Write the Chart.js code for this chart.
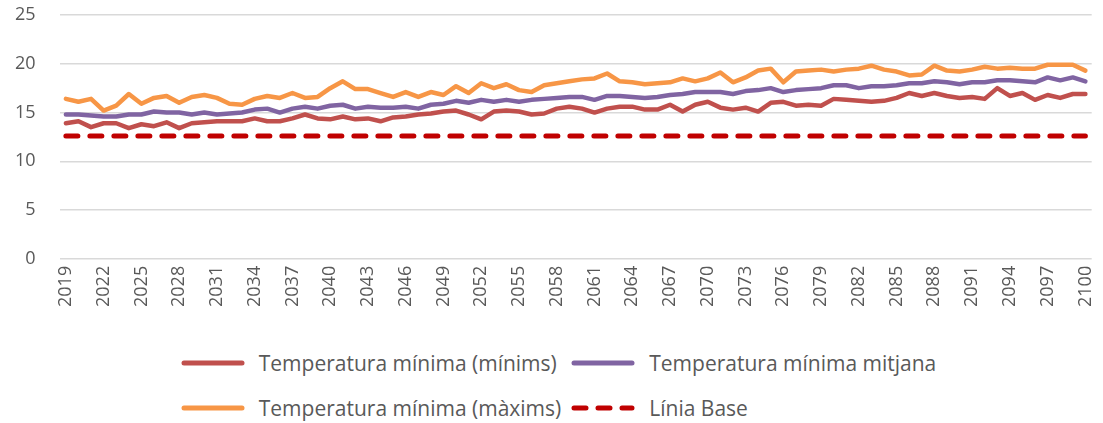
<!DOCTYPE html>
<html>
<head>
<meta charset="utf-8">
<script src="https://cdn.jsdelivr.net/npm/chart.js@4"></script>
<style>
  body { margin: 0; background: #fff; }
  #wrap { position: relative; width: 1103px; height: 423px; overflow: hidden; }
  #box { position: absolute; left: 0; top: 0; width: 1107px; height: 307px; }
  #legend {
    position: absolute; left: 7px; top: 340px; width: 1103px;
    display: grid; grid-template-columns: auto auto; justify-content: center;
    row-gap: 0; column-gap: 10px;
    font-family: "Open Sans", sans-serif; font-size: 21px; color: #595959;
  }
  .item { display: flex; align-items: center; height: 45px; white-space: nowrap; }
  .item svg { margin-right: 14px; }
</style>
</head>
<body>
<div id="wrap">
  <div id="box"><canvas id="temp_graph"></canvas></div>
  <div id="legend"></div>
</div>
<script>
var years = [2019, 2020, 2021, 2022, 2023, 2024, 2025, 2026, 2027, 2028,
  2029, 2030, 2031, 2032, 2033, 2034, 2035, 2036, 2037, 2038,
  2039, 2040, 2041, 2042, 2043, 2044, 2045, 2046, 2047, 2048,
  2049, 2050, 2051, 2052, 2053, 2054, 2055, 2056, 2057, 2058,
  2059, 2060, 2061, 2062, 2063, 2064, 2065, 2066, 2067, 2068,
  2069, 2070, 2071, 2072, 2073, 2074, 2075, 2076, 2077, 2078,
  2079, 2080, 2081, 2082, 2083, 2084, 2085, 2086, 2087, 2088,
  2089, 2090, 2091, 2092, 2093, 2094, 2095, 2096, 2097, 2098,
  2099, 2100];

// minimum of the minimum temperature
var temp_min = [13.9, 14.1, 13.5, 13.9, 13.9, 13.4, 13.8, 13.6, 14.0, 13.4,
  13.9, 14.0, 14.1, 14.1, 14.1, 14.4, 14.1, 14.1, 14.4, 14.8,
  14.4, 14.3, 14.6, 14.3, 14.4, 14.1, 14.5, 14.6, 14.8, 14.9,
  15.1, 15.2, 14.8, 14.3, 15.1, 15.2, 15.1, 14.8, 14.9, 15.4,
  15.6, 15.4, 15.0, 15.4, 15.6, 15.6, 15.3, 15.3, 15.8, 15.1,
  15.8, 16.1, 15.5, 15.3, 15.5, 15.1, 16.0, 16.1, 15.7, 15.8,
  15.7, 16.4, 16.3, 16.2, 16.1, 16.2, 16.5, 17.0, 16.7, 17.0,
  16.7, 16.5, 16.6, 16.4, 17.5, 16.7, 17.0, 16.3, 16.8, 16.5,
  16.9, 16.9];

// mean
var temp_mean = [14.8, 14.8, 14.7, 14.6, 14.6, 14.8, 14.8, 15.1, 15.0, 15.0,
  14.8, 15.0, 14.8, 14.9, 15.0, 15.3, 15.4, 15.0, 15.4, 15.6,
  15.4, 15.7, 15.8, 15.4, 15.6, 15.5, 15.5, 15.6, 15.4, 15.8,
  15.9, 16.2, 16.0, 16.3, 16.1, 16.3, 16.1, 16.3, 16.4, 16.5,
  16.6, 16.6, 16.3, 16.7, 16.7, 16.6, 16.5, 16.6, 16.8, 16.9,
  17.1, 17.1, 17.1, 16.9, 17.2, 17.3, 17.5, 17.1, 17.3, 17.4,
  17.5, 17.8, 17.8, 17.5, 17.7, 17.7, 17.8, 18.0, 18.0, 18.2,
  18.1, 17.9, 18.1, 18.1, 18.3, 18.3, 18.2, 18.1, 18.6, 18.3,
  18.6, 18.2];

// maximum
var temp_max = [16.4, 16.1, 16.4, 15.2, 15.7, 16.9, 15.9, 16.5, 16.7, 16.0,
  16.6, 16.8, 16.5, 15.9, 15.8, 16.4, 16.7, 16.5, 17.0, 16.5,
  16.6, 17.5, 18.2, 17.4, 17.4, 17.0, 16.6, 17.1, 16.6, 17.1,
  16.8, 17.7, 17.0, 18.0, 17.5, 17.9, 17.3, 17.1, 17.8, 18.0,
  18.2, 18.4, 18.5, 19.0, 18.2, 18.1, 17.9, 18.0, 18.1, 18.5,
  18.2, 18.5, 19.1, 18.1, 18.6, 19.3, 19.5, 18.1, 19.2, 19.3,
  19.4, 19.2, 19.4, 19.5, 19.8, 19.4, 19.2, 18.8, 18.9, 19.8,
  19.3, 19.2, 19.4, 19.7, 19.5, 19.6, 19.5, 19.5, 19.9, 19.9,
  19.9, 19.3];

var base_line = [12.6, 12.6, 12.6, 12.6, 12.6, 12.6, 12.6, 12.6, 12.6, 12.6,
  12.6, 12.6, 12.6, 12.6, 12.6, 12.6, 12.6, 12.6, 12.6, 12.6,
  12.6, 12.6, 12.6, 12.6, 12.6, 12.6, 12.6, 12.6, 12.6, 12.6,
  12.6, 12.6, 12.6, 12.6, 12.6, 12.6, 12.6, 12.6, 12.6, 12.6,
  12.6, 12.6, 12.6, 12.6, 12.6, 12.6, 12.6, 12.6, 12.6, 12.6,
  12.6, 12.6, 12.6, 12.6, 12.6, 12.6, 12.6, 12.6, 12.6, 12.6,
  12.6, 12.6, 12.6, 12.6, 12.6, 12.6, 12.6, 12.6, 12.6, 12.6,
  12.6, 12.6, 12.6, 12.6, 12.6, 12.6, 12.6, 12.6, 12.6, 12.6,
  12.6, 12.6];

var series_names = ["Temperatura mínima (mínims)", "Temperatura mínima mitjana",
  "Temperatura mínima (màxims)", "Línia Base"];

var y_ticks = [0, 5, 10, 15, 20, 25];

function lineSet(label, data, color) {
  return {
    label: label,
    data: data,
    fill: false,
    borderColor: color,
    backgroundColor: color,
    borderWidth: 4.5,
    borderJoinStyle: "round",
    borderCapStyle: "round",
    pointRadius: 0,
    tension: 0,
  };
}

var data_temp = {
  labels: years,
  datasets: [
    lineSet(series_names[0], temp_min, "#C0504D"),
    lineSet(series_names[1], temp_mean, "#8064A2"),
    lineSet(series_names[2], temp_max, "#F79646"),
    Object.assign(lineSet(series_names[3], base_line, "#C00000"), {
      borderWidth: 5,
      borderDash: [12, 12],
    }),
  ],
};

// html legend laid out in two columns like the original
const htmlLegend = {
  id: "htmlLegend",
  afterUpdate(chart) {
    const box = document.getElementById("legend");
    box.innerHTML = "";
    chart.data.datasets.forEach((ds) => {
      const item = document.createElement("div");
      item.className = "item";
      const dash = ds.borderDash ? 'stroke-dasharray="12 12"' : "";
      item.innerHTML =
        '<svg width="64" height="10"><line x1="3" y1="5" x2="61" y2="5" stroke="' +
        ds.borderColor + '" stroke-width="5" stroke-linecap="round" ' + dash +
        '/></svg><span>' + ds.label + "</span>";
      box.appendChild(item);
    });
  },
};

const config_temp = {
  type: "line",
  data: data_temp,
  plugins: [htmlLegend],
  options: {
    responsive: true,
    maintainAspectRatio: false,
    animation: false,
    layout: { padding: { left: 12, right: 0, top: 15, bottom: 0 } },
    plugins: {
      legend: { display: false },
      tooltip: { enabled: false },
    },
    scales: {
      x: {
        offset: true,
        grid: { display: true, drawOnChartArea: false, tickLength: 7, tickColor: "rgba(0,0,0,0)" },
        border: { display: false },
        ticks: {
          autoSkip: false,
          maxRotation: 90,
          minRotation: 90,
          padding: 0,
          color: "#595959",
          font: { family: "Open Sans", size: 18 },
          callback: function (val, i) {
            return i % 3 === 0 ? years[i] : "";
          },
        },
      },
      y: {
        min: 0,
        max: 25,
        afterBuildTicks: function (axis) {
          axis.ticks = y_ticks.map((v) => ({ value: v }));
        },
        grid: { color: "#D9D9D9", lineWidth: 1.5, tickLength: 21, tickColor: "rgba(0,0,0,0)" },
        border: { display: false },
        ticks: {
          padding: 3,
          color: "#595959",
          font: { family: "Open Sans", size: 18 },
        },
      },
    },
  },
};

new Chart(document.getElementById("temp_graph"), config_temp);
</script>
</body>
</html>
